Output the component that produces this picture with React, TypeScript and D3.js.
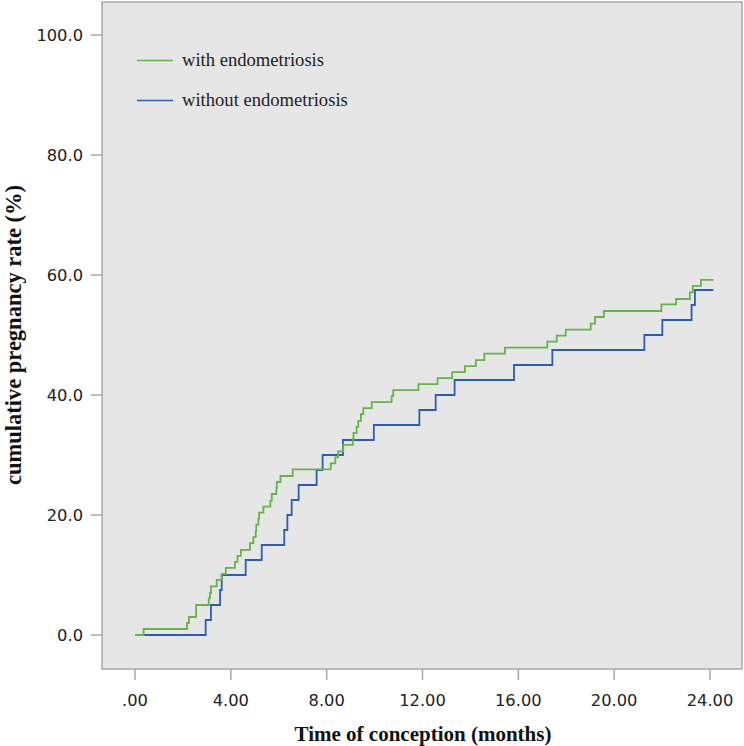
import React from 'react'
import * as d3 from 'd3'

// step points: [month the level starts, cumulative %]
const withEndo: [number, number][] = [
  [0, 0], [0.36, 1.0], [2.17, 2.0], [2.25, 3.0], [2.55, 5.0], [3.08, 6.1], [3.13, 7.0],
  [3.17, 8.1], [3.41, 9.2], [3.62, 10.2], [3.79, 11.2], [4.17, 12.2], [4.28, 13.2],
  [4.42, 14.2], [4.8, 15.3], [4.94, 16.3], [5.04, 17.3], [5.06, 18.4], [5.15, 19.4],
  [5.18, 20.4], [5.36, 21.4], [5.65, 22.4], [5.71, 23.5], [5.9, 24.5], [5.92, 25.5],
  [6.07, 26.5], [6.58, 27.6], [8.17, 28.6], [8.36, 29.6], [8.47, 30.6], [8.69, 31.7],
  [9.09, 32.7], [9.12, 33.7], [9.25, 34.7], [9.32, 35.7], [9.43, 36.8], [9.53, 37.8],
  [9.88, 38.8], [10.71, 39.8], [10.78, 40.8], [11.83, 41.8], [12.63, 42.8], [13.24, 43.8],
  [13.77, 44.8], [14.23, 45.8], [14.58, 46.9], [15.44, 47.9], [17.21, 48.9], [17.6, 49.9],
  [17.98, 50.9], [19.02, 51.9], [19.2, 53.0], [19.57, 54.0], [21.97, 55.1], [22.58, 56.0],
  [23.16, 57.1], [23.28, 58.2], [23.62, 59.2], [24.14, 59.2]
]

const withoutEndo: [number, number][] = [
  [0, 0], [2.95, 2.5], [3.17, 5], [3.55, 7.5], [3.62, 10], [4.62, 12.5], [5.29, 15],
  [6.23, 17.5], [6.36, 20], [6.54, 22.5], [6.83, 25], [7.58, 27.5], [7.83, 30], [8.68, 32.5],
  [9.97, 35], [11.87, 37.5], [12.55, 40], [13.34, 42.5], [15.82, 45], [17.42, 47.5],
  [21.26, 50], [22.01, 52.5], [23.23, 55], [23.37, 57.5], [24.14, 57.5]
]

const xTicks = [0, 4, 8, 12, 16, 20, 24]
const xTickLabels = ['.00', '4.00', '8.00', '12.00', '16.00', '20.00', '24.00']
const yTicks = [0, 20, 40, 60, 80, 100]
const yTickLabels = ['0.0', '20.0', '40.0', '60.0', '80.0', '100.0']

const seriesNames = ['with endometriosis', 'without endometriosis']
const seriesColors = ['#66b447', '#2b5db3']

const width = 744
const height = 746
const frame = { left: 102, right: 742, top: 2, bottom: 669 }

const App = () => {
  const x = d3.scaleLinear().domain([0, 24]).range([135, 710])
  const y = d3.scaleLinear().domain([0, 100]).range([635, 35])

  const line = d3
    .line<[number, number]>()
    .curve(d3.curveStepAfter)
    .x((d) => x(d[0]))
    .y((d) => y(d[1]))

  const tickFont = '"DejaVu Sans", sans-serif'
  const titleFont = '"Liberation Serif", "Times New Roman", serif'

  return (
    <svg
      width={width}
      height={height}
      style={{ position: 'absolute', left: 0, top: 0, background: '#fff' }}
    >
      <rect
        x={frame.left}
        y={frame.top}
        width={frame.right - frame.left}
        height={frame.bottom - frame.top}
        fill="#e6e6e6"
        stroke="#a8a8a8"
        strokeWidth={1.5}
      />

      {yTicks.map((t, i) => (
        <g key={'y' + t}>
          <line x1={91} x2={frame.left} y1={y(t)} y2={y(t)} stroke="#a8a8a8" strokeWidth={1.5} />
          <text
            x={83}
            y={y(t) + 5.5}
            textAnchor="end"
            fontFamily={tickFont}
            fontSize={16.3}
            fill="#222"
          >
            {yTickLabels[i]}
          </text>
        </g>
      ))}

      {xTicks.map((t, i) => (
        <g key={'x' + t}>
          <line x1={x(t)} x2={x(t)} y1={frame.bottom} y2={680} stroke="#a8a8a8" strokeWidth={1.5} />
          <text
            x={x(t)}
            y={706}
            textAnchor="middle"
            fontFamily={tickFont}
            fontSize={16.3}
            fill="#222"
          >
            {xTickLabels[i]}
          </text>
        </g>
      ))}

      <path d={line(withoutEndo) || ''} fill="none" stroke={seriesColors[1]} strokeWidth={1.8} />
      <path d={line(withEndo) || ''} fill="none" stroke={seriesColors[0]} strokeWidth={1.8} />

      {seriesNames.map((name, i) => (
        <g key={name}>
          <line
            x1={137}
            x2={173}
            y1={60.5 + i * 40}
            y2={60.5 + i * 40}
            stroke={seriesColors[i]}
            strokeWidth={1.5}
          />
          <text x={182} y={66 + i * 40} fontFamily={titleFont} fontSize={18.6} fill="#222">
            {name}
          </text>
        </g>
      ))}

      <text
        x={423}
        y={741}
        textAnchor="middle"
        fontFamily={titleFont}
        fontWeight="bold"
        fontSize={21}
        fill="#111"
      >
        Time of conception (months)
      </text>
      <text
        transform={`translate(21,335) rotate(-90)`}
        textAnchor="middle"
        fontFamily={titleFont}
        fontWeight="bold"
        fontSize={22.5}
        fill="#111"
      >
        cumulative pregnancy rate (%)
      </text>
    </svg>
  )
}

export default App
